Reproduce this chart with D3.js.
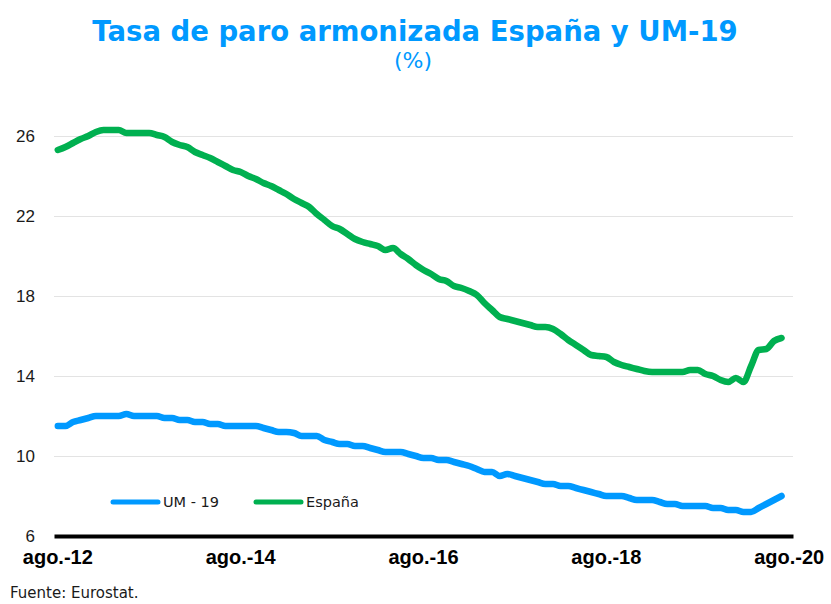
<!DOCTYPE html>
<html>
<head>
<meta charset="utf-8">
<script src="https://cdn.jsdelivr.net/npm/d3@7"></script>
<style>
  body { margin: 0; background: #fff; }
  svg { display: block; font-family: "DejaVu Sans", Verdana, sans-serif; }
</style>
</head>
<body>
<script>
// monthly categories ago.-12 ... ago.-20
const monthNames = ["ago.", "sep.", "oct.", "nov.", "dic.", "ene.", "feb.", "mar.", "abr.", "may.", "jun.", "jul."];
const categories = [];
for (let i = 0; i < 97; i++) {
  let yr = 12 + Math.floor((i + 7) / 12);
  categories.push(monthNames[i % 12] + "-" + yr);
}

const tickLabels = ["ago.-12", "ago.-14", "ago.-16", "ago.-18", "ago.-20"];
const yTicks = [6, 10, 14, 18, 22, 26];

// tasa de paro, % (ago.-12 .. jul.-20)
const espana = [
  25.3, 25.45, 25.65, 25.85, 26.0, 26.2, 26.3, 26.3, 26.3, 26.15,
  26.15, 26.15, 26.15, 26.05, 25.95, 25.7, 25.55, 25.45, 25.2, 25.05,
  24.9, 24.7, 24.5, 24.3, 24.2, 24.0, 23.85, 23.65, 23.5, 23.3,
  23.1, 22.85, 22.65, 22.45, 22.1, 21.8, 21.5, 21.35, 21.1, 20.85,
  20.7, 20.6, 20.5, 20.3, 20.4, 20.1, 19.85, 19.55, 19.3, 19.1,
  18.85, 18.75, 18.5, 18.4, 18.25, 18.05, 17.65, 17.3, 16.95, 16.85,
  16.75, 16.65, 16.55, 16.45, 16.45, 16.35, 16.1, 15.8, 15.55, 15.3,
  15.05, 15.0, 14.95, 14.7, 14.55, 14.45, 14.35, 14.25, 14.2, 14.2,
  14.2, 14.2, 14.2, 14.3, 14.3, 14.1, 14.0, 13.8, 13.7, 13.9,
  13.7, 14.5, 15.3, 15.35, 15.75, 15.9
];

const um19 = [
  11.5, 11.5, 11.7, 11.8, 11.9, 12.0, 12.0, 12.0, 12.0, 12.1,
  12.0, 12.0, 12.0, 12.0, 11.9, 11.9, 11.8, 11.8, 11.7, 11.7,
  11.6, 11.6, 11.5, 11.5, 11.5, 11.5, 11.5, 11.4, 11.3, 11.2,
  11.2, 11.15, 11.0, 11.0, 11.0, 10.8, 10.7, 10.6, 10.6, 10.5,
  10.5, 10.4, 10.3, 10.2, 10.2, 10.2, 10.1, 10.0, 9.9, 9.9,
  9.8, 9.8, 9.7, 9.6, 9.5, 9.35, 9.2, 9.2, 9.0, 9.1,
  9.0, 8.9, 8.8, 8.7, 8.6, 8.6, 8.5, 8.5, 8.4, 8.3,
  8.2, 8.1, 8.0, 8.0, 8.0, 7.9, 7.8, 7.8, 7.8, 7.7,
  7.6, 7.6, 7.5, 7.5, 7.5, 7.5, 7.4, 7.4, 7.3, 7.3,
  7.2, 7.2, 7.4, 7.6, 7.8, 8.0
];

const w = 831;
const h = 604;
const blue = "#0099ff";
const green = "#00b050";

let svg = d3.select("body")
  .append("svg")
  .attr("width", w)
  .attr("height", h);

let xScale = d3.scaleBand()
  .domain(categories)
  .range([54, 793]);

let yScale = d3.scaleLinear()
  .domain([6, 26])
  .range([536, 136]);

let xc = (d, i) => xScale(categories[i]) + xScale.bandwidth() / 2;

// titulo
svg.append("text")
  .attr("x", 415).attr("y", 41)
  .attr("text-anchor", "middle")
  .style("font-size", "27.5px").style("font-weight", "bold")
  .style("fill", blue)
  .text("Tasa de paro armonizada España y UM-19");

svg.append("text")
  .attr("x", 413).attr("y", 68)
  .attr("text-anchor", "middle")
  .style("font-size", "22px")
  .style("fill", blue)
  .text("(%)");

// grid
let yAxis = d3.axisLeft(yScale)
  .tickValues(yTicks)
  .tickSize(-(793 - 54))
  .tickPadding(19);

let gy = svg.append("g")
  .attr("transform", "translate(54,0)")
  .call(yAxis);
gy.select(".domain").remove();
gy.selectAll(".tick line").attr("stroke", "#e3e3e3");
gy.selectAll(".tick line").filter(d => d === 6).remove();
gy.selectAll(".tick text")
  .style("font-size", "17px")
  .style("fill", "#1a1a1a")
  .attr("dy", "0.35em");

// lineas
let line = d3.line()
  .x(xc)
  .y(d => yScale(d))
  .curve(d3.curveMonotoneX);

svg.append("path")
  .datum(um19)
  .attr("d", line)
  .attr("fill", "none")
  .attr("stroke", blue)
  .attr("stroke-width", 6.5)
  .attr("stroke-linecap", "round")
  .attr("stroke-linejoin", "round");

svg.append("path")
  .datum(espana)
  .attr("d", line)
  .attr("fill", "none")
  .attr("stroke", green)
  .attr("stroke-width", 6.5)
  .attr("stroke-linecap", "round")
  .attr("stroke-linejoin", "round");

// eje x
let xAxis = d3.axisBottom(xScale)
  .tickValues(tickLabels)
  .tickSize(0)
  .tickPadding(14);

let gx = svg.append("g")
  .attr("transform", "translate(0,536)")
  .call(xAxis);
gx.select(".domain").attr("stroke", "#000").attr("stroke-width", 4);
gx.selectAll(".tick text")
  .style("font-size", "20px")
  .style("font-weight", "bold")
  .style("fill", "#000");

// leyenda
let legend = [
  {name: "UM - 19", color: blue, x: 113},
  {name: "España", color: green, x: 256}
];
let lg = svg.selectAll(".leg")
  .data(legend)
  .enter()
  .append("g")
  .attr("class", "leg")
  .attr("transform", d => `translate(${d.x},502)`);
lg.append("line")
  .attr("x1", 0).attr("x2", 45)
  .attr("stroke", d => d.color)
  .attr("stroke-width", 5)
  .attr("stroke-linecap", "round");
lg.append("text")
  .attr("x", 50).attr("dy", "0.35em")
  .style("font-size", "14.5px")
  .style("fill", "#1a1a1a")
  .text(d => d.name);

svg.append("text")
  .attr("x", 10).attr("y", 598)
  .style("font-size", "15px")
  .style("fill", "#1a1a1a")
  .text("Fuente: Eurostat.");
</script>
</body>
</html>
